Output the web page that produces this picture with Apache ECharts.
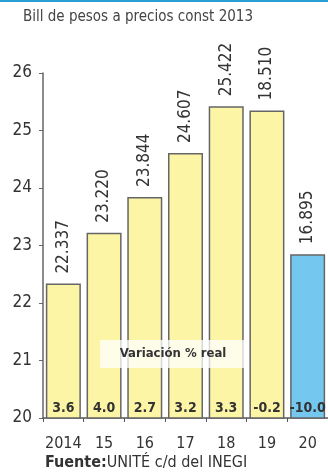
<!DOCTYPE html>
<html>
<head>
<meta charset="utf-8">
<script src="https://cdn.jsdelivr.net/npm/echarts@6/dist/echarts.min.js"></script>
<style>
  html, body { margin: 0; padding: 0; background: #fff; }
  #chart { width: 328px; height: 474px; }
</style>
</head>
<body>
<div id="chart"></div>
<script>
  // datos
  const years = ["2014", "15", "16", "17", "18", "19", "20"];
  const billions = [22.337, 23.22, 23.844, 24.607, 25.422, 25.35, 22.85];
  const billionLabels = ["22.337", "23.220", "23.844", "24.607", "25.422", "18.510", "16.895"];
  const realChange = ["3.6", "4.0", "2.7", "3.2", "3.3", "-0.2", "-10.0"];
  const yTicks = [20, 21, 22, 23, 24, 25, 26];

  const FONT = "'Liberation Sans Narrow', 'DejaVu Sans Condensed', sans-serif";

  const chart = echarts.init(document.getElementById("chart"));

  const barData = billions.map((v, i) => ({
    value: v,
    itemStyle: { color: i === years.length - 1 ? "#74c8ef" : "#fcf5a6" },
  }));

  chart.setOption({
    animation: false,
    textStyle: { fontFamily: FONT },
    title: {
      text: "Bill de pesos a precios const 2013",
      left: 18,
      top: 5,
      textStyle: { fontSize: 15, fontWeight: "normal", color: "#444", fontFamily: FONT },
    },
    grid: { left: 43, right: 0, top: 73, bottom: 56 },
    xAxis: {
      type: "category",
      data: years,
      axisLine: { lineStyle: { color: "#555", width: 1.5 } },
      axisTick: { show: true, length: 4, lineStyle: { color: "#555" } },
      axisLabel: { color: "#333", fontSize: 16, margin: 18, interval: 0, fontFamily: FONT },
    },
    yAxis: {
      type: "value",
      min: yTicks[0],
      max: yTicks[yTicks.length - 1],
      interval: 1,
      splitLine: { show: false },
      axisLine: { show: true, lineStyle: { color: "#666", width: 1.5 } },
      axisTick: { show: true, length: 4, lineStyle: { color: "#666" } },
      axisLabel: { color: "#333", fontSize: 17, margin: 11, fontFamily: FONT },
    },
    series: [
      {
        type: "bar",
        data: barData,
        barWidth: "86%",
        itemStyle: { borderColor: "#666", borderWidth: 1.5 },
        label: {
          show: true,
          position: "top",
          rotate: 90,
          align: "left",
          verticalAlign: "middle",
          distance: 10,
          fontSize: 17,
          color: "#333",
          fontFamily: FONT,
          formatter: (p) => billionLabels[p.dataIndex],
        },
      },
      {
        type: "bar",
        data: billions,
        barWidth: "86%",
        barGap: "-100%",
        silent: true,
        itemStyle: { color: "rgba(0,0,0,0)" },
        label: {
          show: true,
          position: "insideBottom",
          distance: 3,
          fontSize: 14,
          fontWeight: "bold",
          color: "#333",
          fontFamily: FONT,
          formatter: (p) => realChange[p.dataIndex],
        },
      },
    ],
    graphic: [
      { type: "rect", shape: { x: 0, y: 0, width: 328, height: 2 }, style: { fill: "#2a9fd6" } },
      {
        type: "rect",
        shape: { x: 100, y: 340, width: 146, height: 28 },
        style: { fill: "rgba(255,255,255,0.75)" },
        z: 10,
      },
      {
        type: "text",
        x: 173,
        y: 354,
        z: 11,
        style: {
          text: "Variación % real",
          fontSize: 13,
          fontWeight: "bold",
          fill: "#333",
          fontFamily: FONT,
          align: "center",
          verticalAlign: "middle",
        },
      },
      {
        type: "text",
        x: 45,
        y: 463,
        style: {
          text: "{b|Fuente:}UNITÉ c/d del INEGI",
          fontSize: 16,
          fill: "#333",
          fontFamily: FONT,
          verticalAlign: "middle",
          rich: { b: { fontWeight: "bold", fontSize: 16, fill: "#333", fontFamily: FONT } },
        },
      },
    ],
  });
</script>
</body>
</html>
